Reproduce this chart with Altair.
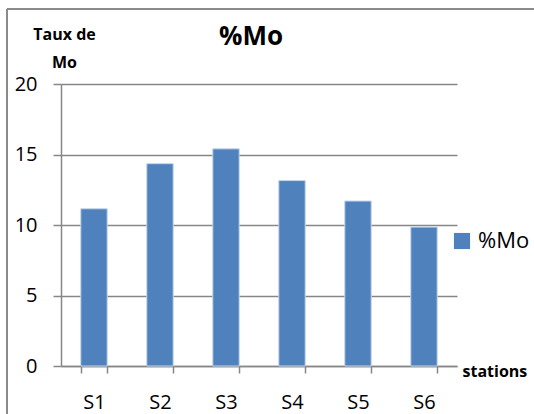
import altair as alt
import pandas as pd

# Molybdenum content per sampling station
stations = ["S1", "S2", "S3", "S4", "S5", "S6"]
mo_pct = [11.15, 14.35, 15.4, 13.15, 11.7, 9.85]
series = ["%Mo"] * len(stations)

df = pd.DataFrame({"station": stations, "mo": mo_pct, "serie": series})

FONT = "Open Sans"
GRID = "#878787"
W, H = 396, 282

bars = alt.Chart(df).mark_bar(stroke="#c4d5ea", strokeWidth=1).encode(
    x=alt.X(
        "station:N",
        sort=stations,
        scale=alt.Scale(paddingInner=0.6, paddingOuter=0.3),
        axis=alt.Axis(
            title="stations",
            titleFont=FONT, titleFontSize=16, titleFontWeight="bold",
            titleAngle=0, titleAlign="left", titleBaseline="alphabetic",
            titleX=401, titleY=10,
            labelFont=FONT, labelFontSize=20, labelColor="#000000",
            labelPadding=19, labelAngle=0,
            tickBand="extent", tickSize=7, tickColor=GRID, tickWidth=1.5,
            domainColor=GRID, domainWidth=1.5, grid=False,
        ),
    ),
    y=alt.Y(
        "mo:Q",
        scale=alt.Scale(domain=[0, 20], nice=False),
        axis=alt.Axis(
            values=[0, 5, 10, 15, 20],
            title=["Taux de", "Mo"],
            titleFont=FONT, titleFontSize=16, titleFontWeight="bold",
            titleAngle=0, titleAlign="center", titleBaseline="alphabetic",
            titleX=3, titleY=-45, titleLineHeight=28,
            labelFont=FONT, labelFontSize=20, labelColor="#000000",
            labelPadding=16,
            tickSize=8, tickColor=GRID, tickWidth=1.5,
            domainColor=GRID, domainWidth=1.5,
            grid=True, gridColor=GRID, gridWidth=1.5,
        ),
    ),
    color=alt.Color(
        "serie:N",
        scale=alt.Scale(range=["#4f81bd"]),
        legend=alt.Legend(
            title=None, orient="none", legendX=390, legendY=146,
            symbolType="square", symbolSize=260, symbolStrokeWidth=0,
            labelFont=FONT, labelFontSize=22, labelColor="#000000",
            labelOffset=5,
        ),
    ),
)

title_df = pd.DataFrame({"t": ["%Mo"]})
title = alt.Chart(title_df).mark_text(
    font=FONT, fontSize=26, fontWeight="bold", baseline="alphabetic",
    align="center", color="#000000",
).encode(text="t:N", x=alt.value(190), y=alt.value(-39))

# outer frame (left and top edges)
frame_left = alt.Chart(title_df).mark_rule(color="#8a8a8a", strokeWidth=2).encode(
    x=alt.value(-54), y=alt.value(-75), y2=alt.value(H + 60)
)
frame_top = alt.Chart(title_df).mark_rule(color="#8a8a8a", strokeWidth=2).encode(
    x=alt.value(-54), x2=alt.value(W + 90), y=alt.value(-75)
)

chart = alt.layer(bars, title, frame_left, frame_top).properties(
    width=W, height=H,
    autosize=alt.AutoSizeParams(type="none"),
    padding={"left": 61, "top": 84, "right": 77, "bottom": 48},
    background="#ffffff",
).configure_view(stroke=None)

chart.save("out.html", embed_options={"renderer": "svg", "actions": False})
